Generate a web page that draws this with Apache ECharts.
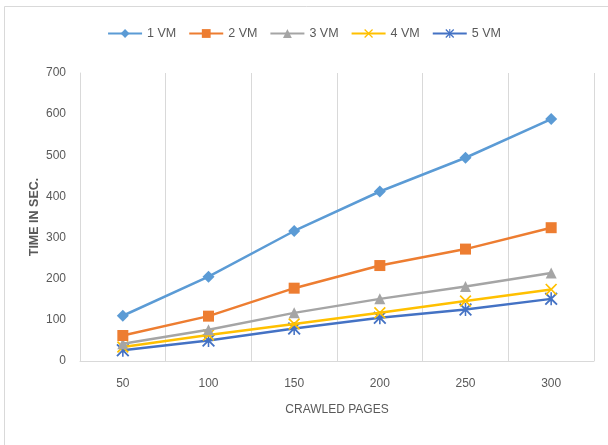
<!DOCTYPE html>
<html>
<head>
<meta charset="utf-8">
<script src="https://cdn.jsdelivr.net/npm/echarts@6/dist/echarts.min.js"></script>
<style>
  html, body { margin: 0; padding: 0; background: #fff; }
  #chart { width: 608px; height: 445px; }
</style>
</head>
<body>
<div id="chart"></div>
<script>
// Crawl time (seconds) per number of crawled pages, by VM count
const pages = ['50', '100', '150', '200', '250', '300'];
const vm1 = [110, 205, 316, 412, 494, 588];
const vm2 = [62, 109, 177, 232, 272, 324];
const vm3 = [42, 76, 117, 151, 181, 214];
const vm4 = [34, 63, 90, 117, 146, 174];
const vm5 = [26, 50, 79, 105, 125, 151];
const seriesNames = ['1 VM', '2 VM', '3 VM', '4 VM', '5 VM'];
const yTicks = [0, 100, 200, 300, 400, 500, 600, 700];

const colors = ['#5B9BD5', '#ED7D31', '#A5A5A5', '#FFC000', '#4472C4'];
const crossPath = 'path://M0,1 L1,0 L5,4 L9,0 L10,1 L6,5 L10,9 L9,10 L5,6 L1,10 L0,9 L4,5 Z';
const starPath = 'path://M0,1 L1,0 L5,4 L9,0 L10,1 L6,5 L10,9 L9,10 L5,6 L1,10 L0,9 L4,5 Z M4.4,0 L5.6,0 L5.6,10 L4.4,10 Z';
const symbols = ['diamond', 'rect', 'triangle', crossPath, starPath];
const sizes = [12, 11, 11, 12, 13];
const values = [vm1, vm2, vm3, vm4, vm5];

const font = "'Liberation Sans', 'Open Sans', sans-serif";
const textColor = '#595959';

const chart = echarts.init(document.getElementById('chart'), null, { renderer: 'canvas' });
chart.setOption({
  animation: false,
  backgroundColor: '#ffffff',
  color: colors,
  graphic: [{
    type: 'rect',
    shape: { x: 4.5, y: 6.5, width: 700, height: 700 },
    style: { fill: 'none', stroke: '#d9d9d9', lineWidth: 1 },
    silent: true
  }],
  legend: {
    top: 22,
    left: 'center',
    itemWidth: 34,
    itemHeight: 11,
    itemGap: 12,
    textStyle: { fontFamily: font, fontSize: 12.5, color: textColor },
    data: seriesNames
  },
  grid: { left: 80, right: 14, top: 73, bottom: 84 },
  xAxis: {
    type: 'category',
    data: pages,
    boundaryGap: true,
    name: 'CRAWLED PAGES',
    nameLocation: 'middle',
    nameGap: 43,
    nameMoveOverlap: false,
    nameTextStyle: { fontFamily: font, fontSize: 12, color: textColor },
    axisLine: { lineStyle: { color: '#d9d9d9' } },
    axisTick: { show: false },
    axisLabel: { fontFamily: font, fontSize: 12, color: textColor, margin: 17 },
    splitLine: { show: true, lineStyle: { color: '#d9d9d9', width: 1 } }
  },
  yAxis: {
    type: 'value',
    min: yTicks[0],
    max: yTicks[yTicks.length - 1],
    interval: 100,
    name: 'TIME IN SEC.',
    nameLocation: 'middle',
    nameGap: 39,
    nameMoveOverlap: false,
    nameTextStyle: { fontFamily: font, fontSize: 12.5, color: textColor, fontWeight: 'bold' },
    axisLine: { show: true, lineStyle: { color: '#d9d9d9' } },
    axisTick: { show: false },
    axisLabel: { fontFamily: font, fontSize: 12, color: textColor, margin: 14 },
    splitLine: { show: false }
  },
  series: seriesNames.map((name, i) => ({
    name: name,
    type: 'line',
    data: values[i],
    symbol: symbols[i],
    symbolSize: sizes[i],
    showAllSymbol: true,
    lineStyle: { width: 2.5, color: colors[i] },
    itemStyle: { color: colors[i] },
    z: 10 - i
  }))
});
</script>
</body>
</html>
